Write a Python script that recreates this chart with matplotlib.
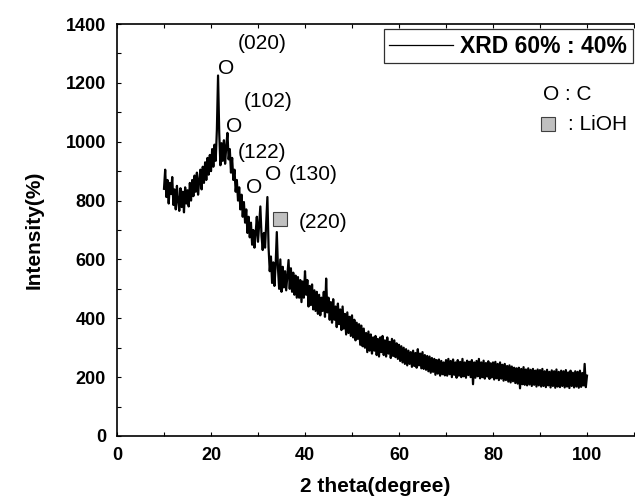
import numpy as np
import matplotlib
matplotlib.use("Agg")
import matplotlib.pyplot as plt
from matplotlib.ticker import MultipleLocator

plt.rcParams["font.family"] = ["Liberation Sans", "DejaVu Sans"]

# 2 theta grid: 10 .. 100 deg, 0.25 deg step
two_theta = np.arange(10.0, 100.001, 0.25)

# intensity, one row per 5 degrees
intensity = [
    840, 905, 812, 870, 790, 860, 822, 880, 785, 838, 770, 850, 800, 765, 842, 778, 830, 760, 845, 790,
    835, 780, 860, 800, 870, 815, 885, 830, 895, 820, 870, 905, 838, 915, 860, 930, 870, 945, 888, 955,
    900, 975, 915, 990, 935, 1040, 1225, 1030, 920, 995, 935, 1005, 925, 985, 1030, 940, 975, 895, 945, 870,
    905, 830, 870, 800, 845, 770, 820, 745, 795, 725, 770, 690, 745, 675, 725, 650, 700, 640, 690, 745,
    660, 720, 780, 680, 632, 690, 640, 730, 812, 640, 560, 610, 520, 590, 510, 580, 693, 570, 500, 600,
    490, 575, 505, 560, 495, 545, 598, 500, 570, 490, 555, 480, 545, 470, 540, 470, 530, 455, 525, 470,
    560, 480, 530, 440, 510, 445, 515, 430, 495, 425, 490, 415, 480, 410, 470, 425, 490, 405, 535, 420,
    470, 395, 455, 385, 465, 395, 440, 370, 450, 380, 430, 360, 440, 365, 415, 345, 420, 350, 405, 340,
    410, 335, 395, 325, 385, 330, 380, 310, 375, 305, 365, 300, 350, 285, 355, 290, 345, 280, 335, 290,
    340, 275, 330, 270, 335, 285, 340, 275, 325, 270, 335, 280, 320, 265, 330, 272, 325, 268, 315, 262,
    310, 255, 305, 250, 300, 245, 295, 240, 290, 245, 285, 235, 290, 238, 282, 232, 295, 240, 280, 230,
    285, 228, 275, 225, 272, 220, 270, 215, 265, 218, 262, 208, 258, 212, 260, 205, 255, 210, 250, 206,
    258, 205, 262, 210, 255, 200, 260, 208, 250, 198, 258, 205, 252, 200, 262, 203, 250, 198, 256, 207,
    252, 200, 258, 176, 250, 198, 255, 203, 262, 196, 250, 200, 256, 195, 248, 202, 254, 194, 247, 199,
    250, 192, 252, 196, 245, 190, 250, 195, 242, 188, 245, 190, 238, 185, 240, 182, 236, 186, 232, 180,
    230, 178, 232, 162, 228, 176, 234, 174, 226, 172, 230, 175, 225, 170, 228, 174, 222, 168, 226, 172,
    224, 168, 228, 170, 220, 166, 225, 172, 218, 165, 223, 170, 220, 164, 226, 168, 218, 166, 222, 170,
    220, 165, 224, 168, 216, 163, 222, 170, 215, 165, 220, 168, 218, 164, 222, 167, 214, 172, 245, 166,
    205,
]

# peak labels (positions in data units)
peak_marks = ["O", "O", "O", "O"]
peak_mark_x = [23.2, 24.9, 29.1, 33.2]
peak_mark_y = [1250, 1053, 843, 887]
peak_names = ["(020)", "(102)", "(122)", "(130)"]
peak_name_x = [30.9, 32.1, 30.9, 41.7]
peak_name_y = [1335, 1135, 962, 887]

fig = plt.figure(figsize=(6.35, 5.01), dpi=100)
ax = fig.add_axes([117 / 635, 65 / 501, 517 / 635, 412 / 501])

ax.plot(two_theta, intensity, color="black", lw=1.6, label="XRD 60% : 40%")

for m, mx, my in zip(peak_marks, peak_mark_x, peak_mark_y):
    ax.text(mx, my, m, fontsize=15, ha="center", va="center")
for n, nx, ny in zip(peak_names, peak_name_x, peak_name_y):
    ax.text(nx, ny, n, fontsize=15, ha="center", va="center")

# LiOH (220)
ax.plot([34.7], [737], marker="s", ms=9.5, mfc="#c0c0c0", mec="#404040", mew=0.8, ls="none")
ax.text(43.8, 727, "(220)", fontsize=15, ha="center", va="center")

# key for the markers
ax.text(90.6, 1159, "O : C", fontsize=15, ha="left", va="center")
ax.plot([91.7], [1060], marker="s", ms=9.5, mfc="#c0c0c0", mec="#404040", mew=0.8, ls="none",
        clip_on=False)
ax.text(96.0, 1060, ": LiOH", fontsize=15, ha="left", va="center", clip_on=False)

ax.set_xlim(0, 110)
ax.set_ylim(0, 1400)
ax.xaxis.set_major_locator(MultipleLocator(20))
ax.xaxis.set_minor_locator(MultipleLocator(10))
ax.yaxis.set_major_locator(MultipleLocator(200))
ax.yaxis.set_minor_locator(MultipleLocator(100))
ax.set_xticks([0, 20, 40, 60, 80, 100])
ax.tick_params(which="both", direction="in", top=True, length=3, width=0.8)
ax.tick_params(axis="both", which="major", labelsize=13, pad=8)
for lab in ax.get_xticklabels() + ax.get_yticklabels():
    lab.set_fontweight("bold")
ax.spines["right"].set_visible(False)
for s in ["left", "bottom", "top"]:
    ax.spines[s].set_linewidth(1.2)

ax.set_xlabel("2 theta(degree)", fontsize=15, fontweight="bold", labelpad=9)
ax.set_ylabel("Intensity(%)", fontsize=15, fontweight="bold", labelpad=16)

leg = ax.legend(loc="upper right", bbox_to_anchor=(0.998, 0.988), borderaxespad=0,
                prop={"size": 16.5, "weight": "bold"}, frameon=True, fancybox=False,
                framealpha=1, edgecolor="#303030", handlelength=2.8, handletextpad=0.3,
                borderpad=0.25)
leg.get_frame().set_linewidth(0.9)
leg.get_lines()[0].set_linewidth(0.9)

fig.savefig("out.png", dpi=100)
